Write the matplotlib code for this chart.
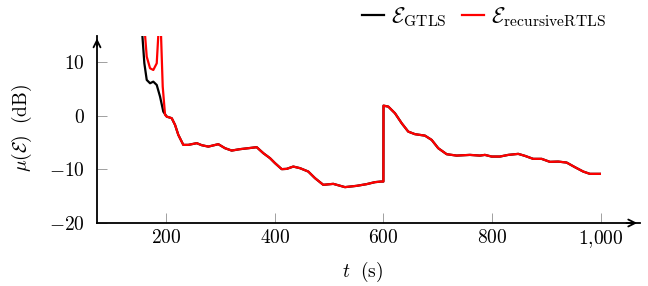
import matplotlib
matplotlib.use("Agg")
import matplotlib.pyplot as plt
from matplotlib.ticker import FuncFormatter

plt.rcParams['mathtext.fontset'] = 'cm'
plt.rcParams['font.family'] = ['DejaVu Serif']

# Black curve: E_GTLS
t_gtls = [152, 156.4, 160.1, 164.5, 170.6, 176.6, 182.9, 189.0, 195.0, 201.3, 210.5, 216.6,
          222.6, 231.8, 241.0, 256.5, 265.7, 277.8, 296.2, 308.5, 320.8, 336.1, 351.4,
          366.8, 379.0, 391.3, 400.5, 412.8, 422.0, 434.1, 446.5, 461.7, 474.0, 489.3,
          507.7, 529.2, 550.7, 569.1, 584.4, 595.4, 599.9, 600.1, 608.9, 621.2, 633.5,
          645.6, 658.0, 676.3, 688.7, 700.8, 716.3, 734.7, 759.1, 777.5, 786.7, 799.0,
          814.3, 829.6, 848.0, 860.3, 875.5, 891.0, 906.3, 921.5, 937.0, 952.2, 967.5,
          979.8, 998.2]
mu_gtls = [20, 15.1, 9.83, 6.72, 6.10, 6.40, 5.78, 3.60, 0.80, -0.13, -0.43, -1.68,
           -3.54, -5.41, -5.41, -5.09, -5.47, -5.73, -5.28, -6.03, -6.47, -6.21, -6.03,
           -5.84, -6.96, -7.89, -8.82, -9.94, -9.89, -9.46, -9.76, -10.39, -11.62, -12.87,
           -12.69, -13.30, -13.06, -12.74, -12.37, -12.26, -12.26, 1.92, 1.74, 0.50, -1.36,
           -2.93, -3.41, -3.68, -4.48, -6.03, -7.15, -7.41, -7.28, -7.41, -7.28, -7.59,
           -7.59, -7.28, -7.09, -7.46, -8.02, -8.02, -8.58, -8.53, -8.71, -9.57, -10.39,
           -10.82, -10.82]

# Red curve: E_recursiveRTLS (early transient, then identical to GTLS)
t_rec_early = [158, 161.4, 164.5, 170.6, 176.6, 182.9, 185.8, 188.3, 190.8, 193.9, 198.2]
mu_rec_early = [25, 15.1, 11.06, 8.90, 8.58, 9.83, 15.1, 30, 15.1, 5.47, 0.19]

x_ticks = [200, 400, 600, 800, 1000]
y_ticks = [-20, -10, 0, 10]

t_rec = t_rec_early + [t for t in t_gtls if t > 200]
mu_rec = mu_rec_early + [m for t, m in zip(t_gtls, mu_gtls) if t > 200]

FS = 14

fig = plt.figure(figsize=(6.48, 2.86), dpi=100)
ax = fig.add_axes([97/648, 1 - 223/286, (640 - 97)/648, (223 - 35.6)/286])

ax.plot(t_gtls, mu_gtls, color='black', lw=1.6, label=r'$\mathcal{E}_{\mathrm{GTLS}}$',
        solid_joinstyle='round')
ax.plot(t_rec, mu_rec, color='#ff0000', lw=1.6, label=r'$\mathcal{E}_{\mathrm{recursiveRTLS}}$',
        solid_joinstyle='round')

ax.set_xlim(73, 1072)
ax.set_ylim(-20, 15)

for s in ['top', 'right']:
    ax.spines[s].set_visible(False)
for s in ['left', 'bottom']:
    ax.spines[s].set_linewidth(1.3)

ax.annotate('', xy=(1.0, 0), xycoords='axes fraction', xytext=(0.97, 0),
            arrowprops=dict(arrowstyle='->,head_length=0.5,head_width=0.25', lw=1.3, color='black'))
ax.annotate('', xy=(0, 1.0), xycoords='axes fraction', xytext=(0, 0.93),
            arrowprops=dict(arrowstyle='->,head_length=0.5,head_width=0.25', lw=1.3, color='black'))

ax.set_xticks(x_ticks)
ax.set_yticks(y_ticks)
ax.xaxis.set_major_formatter(FuncFormatter(lambda v, p: r'$1{,}000$' if int(v) == 1000 else r'$%d$' % int(v)))
ax.yaxis.set_major_formatter(FuncFormatter(lambda v, p: r'$%d$' % int(v)))
ax.tick_params(direction='in', length=7, width=0.6, color='#909090', labelsize=FS)
ax.tick_params(axis='x', pad=4)
ax.tick_params(axis='y', pad=9)

ax.set_xlabel(r'$t\ \ \mathrm{(s)}$', fontsize=FS)
ax.xaxis.set_label_coords((363 - 97) / (640 - 97), -(272 - 223) / (223 - 35.6))
ax.xaxis.label.set_va('center')
ax.set_ylabel(r'$\mu(\mathcal{E})\ \ \mathrm{(dB)}$', fontsize=FS)
ax.yaxis.set_label_coords(-(97 - 22) / (640 - 97), (223 - 128) / (223 - 35.6))
ax.yaxis.label.set_va('center')

fig.legend(loc='center', bbox_to_anchor=(484/648, 1 - 17/286), ncol=2, frameon=False,
           fontsize=16, handlelength=1.0, handletextpad=0.3, columnspacing=0.7)

fig.savefig('out.png', dpi=100)
